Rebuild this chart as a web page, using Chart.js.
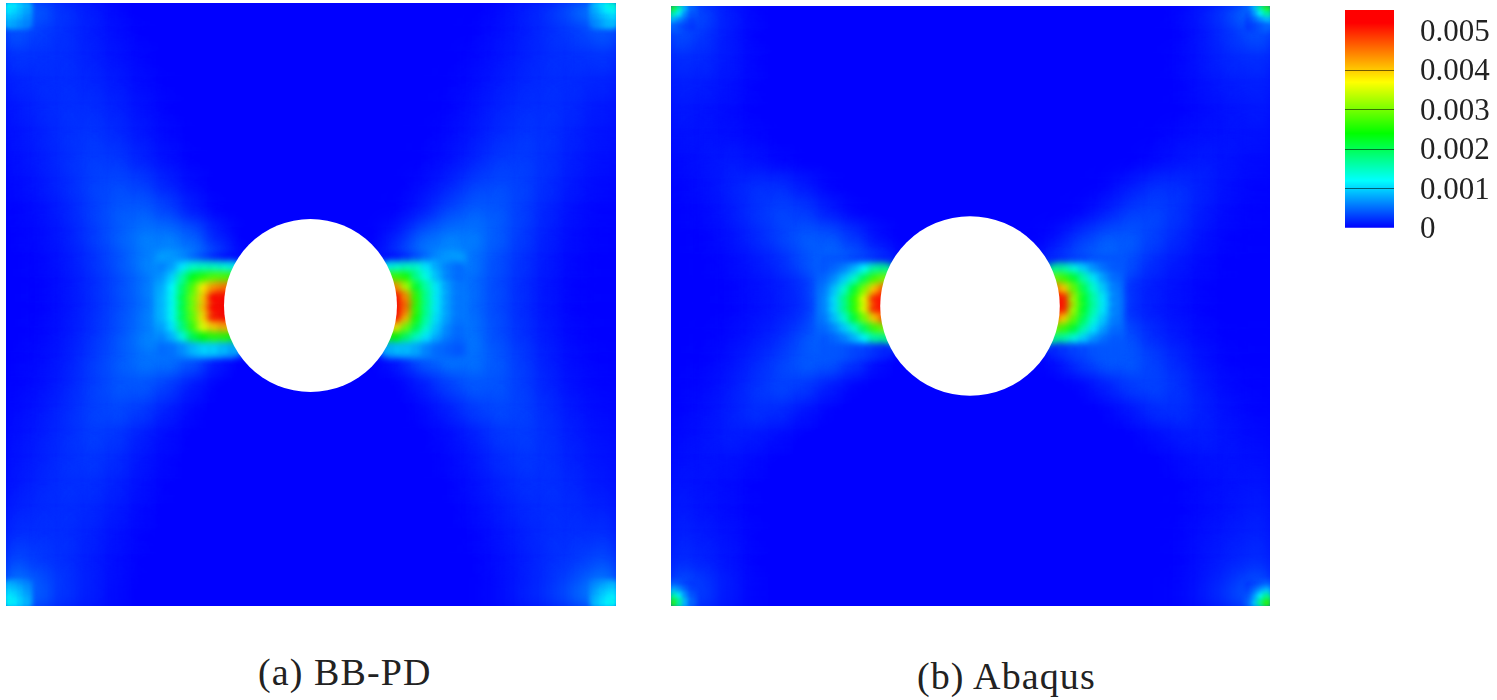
<!DOCTYPE html>
<html>
<head>
<meta charset="utf-8">
<title>BB-PD vs Abaqus</title>
<script src="https://cdn.jsdelivr.net/npm/chart.js@4/dist/chart.umd.min.js"></script>
<style>
    html, body { margin: 0; padding: 0; background: #fff; overflow: hidden; }
    body { width: 1497px; height: 700px; position: relative; }
    canvas { position: absolute; display: block; }
    .caption { position: absolute; font-family: "Liberation Serif", serif; color: #222; white-space: nowrap; font-size: 38px; line-height: 40px; letter-spacing: 1.1px; }
</style>
</head>
<body>
<canvas id="plate-a" width="610" height="603" style="left:6px;top:3px"></canvas>
<canvas id="plate-b" width="599" height="600" style="left:671px;top:6px"></canvas>
<canvas id="colour-bar" width="152" height="240" style="left:1345px;top:10px"></canvas>
<div class="caption" style="left:258px;top:652px">(a) BB-PD</div>
<div class="caption" style="left:917px;top:656px">(b) Abaqus</div>
<script>
// all field values are strain in units of 1e-5
const strainUnit = 1e-5;

// colour bar
const colourTicks = [0, 0.001, 0.002, 0.003, 0.004, 0.005];
const colourTickLabels = ['0', '0.001', '0.002', '0.003', '0.004', '0.005'];
const colourRange = [0, 0.00553];
const stopValues = [0, 0.0012, 0.0024, 0.0037, 0.0052];
const stopColours = [[0, 0, 255], [0, 255, 255], [0, 255, 0], [255, 255, 0], [255, 0, 0]];

// coarse grid, 24 x 24 cells, top row first
const plateCoarseA = [
    [75,45,26,15,5,0,0,0,0,0,0,0,0,0,0,0,0,0,0,5,15,26,48,80],
    [42,30,24,15,8,2,0,0,0,0,0,0,0,0,0,0,0,0,2,8,15,24,30,42],
    [26,25,24,17,10,4,0,0,0,0,0,0,0,0,0,0,0,0,4,10,17,24,25,26],
    [18,22,24,20,14,6,2,0,0,0,0,0,0,0,0,0,0,2,6,14,20,24,22,18],
    [12,20,25,24,18,9,3,0,0,0,0,0,0,0,0,0,0,3,9,18,24,25,20,12],
    [10,17,25,28,22,12,5,1,0,0,0,0,0,0,0,0,1,5,12,22,28,25,17,10],
    [8,15,24,32,30,18,8,2,0,0,0,0,0,0,0,0,2,8,18,30,32,24,15,8],
    [5,12,22,34,40,34,18,6,0,0,0,0,0,0,0,0,6,18,34,40,34,22,12,5],
    [3,8,18,32,46,50,36,14,2,0,0,0,0,0,0,2,14,36,50,46,32,18,8,3],
    [2,6,15,30,48,65,65,50,15,0,0,0,0,0,0,15,50,65,65,48,30,15,6,2],
    [1,4,12,25,42,65,80,70,40,0,0,0,0,0,0,40,70,80,60,40,25,12,4,1],
    [1,3,10,22,38,58,90,150,300,0,0,0,0,0,0,300,170,85,55,38,22,10,3,1],
    [1,3,10,22,38,58,90,150,300,0,0,0,0,0,0,300,170,85,55,38,22,10,3,1],
    [1,4,12,25,42,65,80,70,40,0,0,0,0,0,0,40,70,80,60,40,25,12,4,1],
    [2,6,15,30,46,60,60,45,12,0,0,0,0,0,0,12,45,60,60,46,30,15,6,2],
    [3,8,18,32,44,46,32,12,1,0,0,0,0,0,0,1,12,32,46,44,32,18,8,3],
    [5,12,22,34,38,30,15,4,0,0,0,0,0,0,0,0,4,15,30,38,34,22,12,5],
    [8,15,24,32,28,15,6,1,0,0,0,0,0,0,0,0,1,6,15,28,32,24,15,8],
    [10,17,25,28,22,11,4,0,0,0,0,0,0,0,0,0,0,4,11,22,28,25,17,10],
    [12,20,25,24,17,8,2,0,0,0,0,0,0,0,0,0,0,2,8,17,24,25,20,12],
    [18,22,24,20,13,5,1,0,0,0,0,0,0,0,0,0,0,1,5,13,20,24,22,18],
    [26,25,24,17,9,3,0,0,0,0,0,0,0,0,0,0,0,0,3,9,17,24,25,26],
    [42,30,24,15,7,2,0,0,0,0,0,0,0,0,0,0,0,0,2,7,15,24,30,42],
    [75,45,26,15,5,0,0,0,0,0,0,0,0,0,0,0,0,0,0,5,15,26,45,75]
];
const plateCoarseB = [
    [70,35,15,4,0,0,0,0,0,0,0,0,0,0,0,0,0,0,0,0,4,15,35,70],
    [38,26,12,3,0,0,0,0,0,0,0,0,0,0,0,0,0,0,0,0,3,12,26,38],
    [22,20,12,4,0,0,0,0,0,0,0,0,0,0,0,0,0,0,0,0,4,12,20,22],
    [16,14,9,3,0,0,0,0,0,0,0,0,0,0,0,0,0,0,0,0,3,9,14,16],
    [12,10,6,2,0,0,0,0,0,0,0,0,0,0,0,0,0,0,0,0,2,6,10,12],
    [9,10,8,4,1,0,0,0,0,0,0,0,0,0,0,0,0,0,0,2,6,9,10,9],
    [5,10,14,10,4,1,0,0,0,0,0,0,0,0,0,0,0,0,1,5,11,14,10,5],
    [3,8,16,25,26,14,3,0,0,0,0,0,0,0,0,0,0,3,14,26,25,16,8,3],
    [2,5,13,26,36,32,15,3,0,0,0,0,0,0,0,0,3,15,32,36,26,13,5,2],
    [1,3,9,20,34,48,46,28,6,0,0,0,0,0,0,6,28,46,48,34,20,9,3,1],
    [1,2,5,12,22,42,60,50,30,0,0,0,0,0,0,30,50,60,42,22,12,5,2,1],
    [0,1,3,8,14,25,70,230,400,0,0,0,0,0,0,400,200,72,25,14,8,3,1,0],
    [0,1,3,8,14,25,70,230,400,0,0,0,0,0,0,400,200,72,25,14,8,3,1,0],
    [1,2,5,12,22,42,60,50,30,0,0,0,0,0,0,30,50,60,42,22,12,5,2,1],
    [1,3,9,20,34,48,46,28,6,0,0,0,0,0,0,6,28,46,48,34,20,9,3,1],
    [2,5,13,26,36,30,14,2,0,0,0,0,0,0,0,0,2,14,30,36,26,13,5,2],
    [3,8,16,25,22,10,2,0,0,0,0,0,0,0,0,0,0,2,10,22,25,16,8,3],
    [5,10,15,12,6,1,0,0,0,0,0,0,0,0,0,0,0,0,1,6,12,15,10,5],
    [8,10,9,5,1,0,0,0,0,0,0,0,0,0,0,0,0,0,0,1,5,9,10,8],
    [11,9,6,2,0,0,0,0,0,0,0,0,0,0,0,0,0,0,0,0,2,6,9,11],
    [14,10,6,2,0,0,0,0,0,0,0,0,0,0,0,0,0,0,0,0,2,6,10,14],
    [18,14,9,3,0,0,0,0,0,0,0,0,0,0,0,0,0,0,0,0,3,9,14,18],
    [24,18,10,3,0,0,0,0,0,0,0,0,0,0,0,0,0,0,0,0,3,10,18,24],
    [50,28,12,3,0,0,0,0,0,0,0,0,0,0,0,0,0,0,0,0,3,12,28,50]
];

// finer cells beside the hole, plate coordinates run 0-60 from the top left
const lobeRows = [25.5, 26.5, 27.5, 28.5, 29.5, 30.5, 31.5, 32.5, 33.5, 34.5];
const lobeColsALeft = [15.5, 16.5, 17.5, 18.5, 19.5, 20.5, 21.5, 22.5];
const lobeColsARight = [37.5, 38.5, 39.5, 40.5, 41.5, 42.5, 43.5, 44.5];
const lobeColsBLeft = [15.5, 16.5, 17.5, 18.5, 19.5, 20.5, 21.5];
const lobeColsBRight = [38.5, 39.5, 40.5, 41.5, 42.5, 43.5, 44.5];
const lobeALeft = [
    [75,72,65,50,35,20,10,5],
    [60,75,110,145,150,150,140,130],
    [70,100,165,230,260,280,280,270],
    [80,120,195,280,380,430,450,450],
    [85,125,210,300,400,520,550,550],
    [85,125,210,300,410,540,550,550],
    [85,125,205,290,390,510,540,540],
    [75,110,185,270,360,400,420,420],
    [62,85,135,205,240,260,260,250],
    [50,52,65,85,100,100,90,80]
];
const lobeARight = [
    [5,10,20,35,50,65,72,75],
    [130,140,150,145,110,80,60,50],
    [270,270,250,175,130,90,62,50],
    [450,440,330,220,160,110,75,55],
    [550,530,440,260,170,110,75,55],
    [550,540,460,260,170,110,75,55],
    [550,520,420,250,165,105,75,55],
    [430,390,300,210,145,95,65,50],
    [250,240,195,150,110,80,58,48],
    [80,90,90,80,62,50,45,40]
];
const lobeBLeft = [
    [40,40,38,32,28,22,15],
    [40,48,60,85,120,165,175],
    [48,65,95,140,200,270,300],
    [55,90,140,215,300,400,470],
    [60,105,175,260,360,500,550],
    [60,105,175,260,360,500,550],
    [55,90,140,215,300,400,470],
    [48,65,95,140,200,270,300],
    [40,48,60,85,120,165,175],
    [40,40,38,32,28,22,15]
];
const lobeBRight = [
    [15,22,28,32,38,40,40],
    [175,165,135,100,70,52,42],
    [300,270,220,160,110,75,50],
    [470,400,290,200,140,95,58],
    [550,510,320,220,160,110,60],
    [550,510,320,220,160,110,60],
    [470,400,290,200,140,95,58],
    [300,270,220,160,110,75,50],
    [175,165,135,100,70,52,42],
    [15,22,28,32,38,40,40]
];

// the small hot spots in the four corners
const cornerOffsets = [0.3, 0.9, 1.5, 2.1];
const cornersA = [
    [[125,115,100,85],[115,105,92,78],[100,92,85,70],[85,78,70,62]],
    [[85,105,125,145],[78,95,115,125],[70,85,95,105],[62,72,85,90]],
    [[85,78,70,62],[100,92,85,70],[115,105,92,78],[125,115,100,85]],
    [[62,70,78,85],[70,85,92,100],[78,92,105,115],[85,100,115,125]]
];
const cornersB = [
    [[260,170,90,45],[170,120,70,38],[90,70,48,30],[45,38,30,25]],
    [[45,90,170,260],[38,70,120,170],[30,48,70,90],[25,30,38,45]],
    [[45,38,30,25],[90,70,48,30],[170,120,70,38],[260,170,90,45]],
    [[25,30,38,45],[30,48,70,90],[38,70,120,170],[45,90,170,260]]
];

// hole in the plate, centre x, centre y
const holeA = [[29.95, 30.1]];
const holeB = [[29.95, 30]];

function colourAt(value) {
    let i = 0;
    while (i < stopValues.length - 2 && value > stopValues[i + 1]) i++;
    const t = Math.min(1, Math.max(0, (value - stopValues[i]) / (stopValues[i + 1] - stopValues[i])));
    const c = stopColours[i].map((s, k) => Math.round(s + (stopColours[i + 1][k] - s) * t));
    return `rgb(${c[0]},${c[1]},${c[2]})`;
}

function cellPoints(xs, ys, rows) {
    const out = [];
    rows.forEach((row, r) => row.forEach((v, c) => out.push({ x: xs[c], y: ys[r], v: v * strainUnit })));
    return out;
}

function cellDataset(points, radius, blurPx, order) {
    return {
        data: points,
        order,
        blurPx,
        pointStyle: 'rect',
        pointRadius: radius,
        pointHoverRadius: radius,
        pointBorderWidth: 0,
        pointBackgroundColor: (ctx) => colourAt(ctx.raw ? ctx.raw.v : 0),
        clip: 0,
    };
}

const softCells = {
    id: 'softCells',
    beforeDraw(chart) {
        const a = chart.chartArea;
        chart.ctx.fillStyle = 'rgb(0,0,255)';
        chart.ctx.fillRect(a.left, a.top, a.width, a.height);
    },
    beforeDatasetDraw(chart, args) {
        const blur = chart.data.datasets[args.index].blurPx;
        chart.ctx.filter = blur ? `blur(${blur}px)` : 'none';
    },
    afterDatasetDraw(chart) {
        chart.ctx.filter = 'none';
    },
};

function plateChart(id, coarse, lobes, corners, hole, holeRadius) {
    const coarseAxis = coarse.map((_, i) => 1.25 + 2.5 * i);
    const datasets = [{
        data: hole.map((h) => ({ x: h[0], y: h[1] })),
        order: 0,
        pointRadius: holeRadius,
        pointHoverRadius: holeRadius,
        pointBorderWidth: 0,
        pointBackgroundColor: '#fff',
        clip: 0,
    }];
    corners.forEach((rows, i) => {
        const xs = i % 2 ? cornerOffsets.map((o) => 60 - cornerOffsets[3] - 0.3 + o) : cornerOffsets;
        const ys = i > 1 ? cornerOffsets.map((o) => 60 - cornerOffsets[3] - 0.3 + o) : cornerOffsets;
        datasets.push(cellDataset(cellPoints(xs, ys, rows), 6, 2.5, 1));
    });
    lobes.forEach((l) => datasets.push(cellDataset(cellPoints(l[0], lobeRows, l[1]), 10, 3.5, 2)));
    datasets.push(cellDataset(cellPoints(coarseAxis, coarseAxis, coarse), 23, 10, 3));

    return new Chart(document.getElementById(id), {
        type: 'scatter',
        data: { datasets },
        plugins: [softCells],
        options: {
            responsive: false,
            animation: false,
            layout: { padding: 0, autoPadding: false },
            plugins: { legend: { display: false }, tooltip: { enabled: false } },
            events: [],
            scales: {
                x: { type: 'linear', min: 0, max: 60, display: false },
                y: { type: 'linear', min: 0, max: 60, reverse: true, display: false },
            },
        },
    });
}

plateChart('plate-a', plateCoarseA,
    [[lobeColsALeft, lobeALeft], [lobeColsARight, lobeARight]], cornersA, holeA, 86.5);
plateChart('plate-b', plateCoarseB,
    [[lobeColsBLeft, lobeBLeft], [lobeColsBRight, lobeBRight]], cornersB, holeB, 89.8);

// colour bar: one floating bar filled with the same colour ramp
new Chart(document.getElementById('colour-bar'), {
    type: 'bar',
    data: {
        labels: ['strain'],
        datasets: [{
            data: [colourRange],
            barPercentage: 1,
            categoryPercentage: 1,
            backgroundColor(ctx) {
                const y = ctx.chart.scales.y;
                const y0 = y ? y.getPixelForValue(0) : NaN;
                const y1 = y ? y.getPixelForValue(colourRange[1]) : NaN;
                if (!isFinite(y0) || !isFinite(y1)) return '#00f';
                const g = ctx.chart.ctx.createLinearGradient(0, y0, 0, y1);
                stopValues.forEach((v) => g.addColorStop(v / colourRange[1], colourAt(v)));
                g.addColorStop(1, colourAt(colourRange[1]));
                return g;
            },
        }],
    },
    options: {
        responsive: false,
        animation: false,
        layout: { padding: { top: 0, bottom: 22, left: 0, right: 0 }, autoPadding: false },
        plugins: { legend: { display: false }, tooltip: { enabled: false } },
        events: [],
        scales: {
            x: { display: false },
            y: {
                position: 'right',
                min: colourRange[0],
                max: colourRange[1],
                afterBuildTicks(scale) { scale.ticks = colourTicks.map((value) => ({ value })); },
                afterFit(scale) { scale.width = 103; scale.paddingTop = 0; scale.paddingBottom = 0; },
                border: { display: false },
                grid: {
                    z: 1,
                    drawTicks: false,
                    color: (ctx) => (ctx.tick && ctx.tick.value > 0 && ctx.tick.value < 0.0045 ? 'rgba(0,0,0,0.55)' : 'rgba(0,0,0,0)'),
                },
                ticks: {
                    padding: 26,
                    color: '#222',
                    autoSkip: false,
                    labelOffset: 2,
                    font: { family: '"Liberation Serif", serif', size: 31 },
                    callback: (v) => colourTickLabels[colourTicks.indexOf(v)],
                },
            },
        },
    },
});
</script>
</body>
</html>
